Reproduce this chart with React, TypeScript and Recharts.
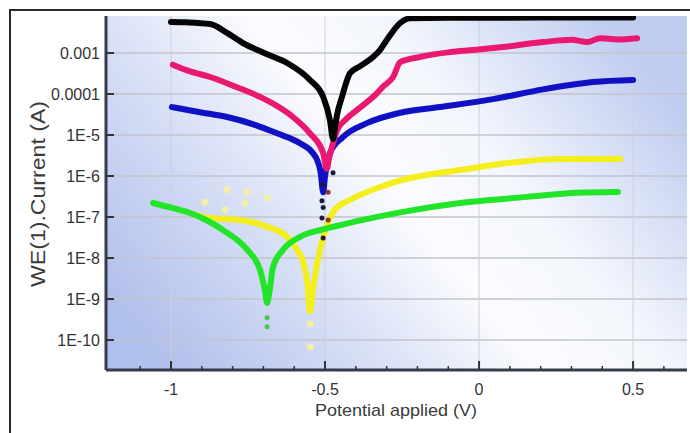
import React from "react";
import { ComposedChart, Line, Scatter, XAxis, YAxis, CartesianGrid, Label } from "recharts";

// axis ticks
const xTicks = [-1.1, -1, -0.9, -0.8, -0.7, -0.6, -0.5, -0.4, -0.3, -0.2, -0.1, 0, 0.1, 0.2, 0.3, 0.4, 0.5, 0.6];
const xMajor = [-1, -0.5, 0, 0.5];
const xMajorLabels = ["-1", "-0.5", "0", "0.5"];
const yTicks = [1e-3, 1e-4, 1e-5, 1e-6, 1e-7, 1e-8, 1e-9, 1e-10];
const yTickLabels = ["0.001", "0.0001", "1E-5", "1E-6", "1E-7", "1E-8", "1E-9", "1E-10"];

// [potential V, current A]
const black = [
  [-1.0, 5.7e-3], [-0.95, 5.6e-3], [-0.873, 5.1e-3], [-0.818, 3.1e-3], [-0.766, 1.75e-3], [-0.69, 9.5e-4],
  [-0.623, 5.7e-4], [-0.549, 2.2e-4], [-0.506, 8.5e-5], [-0.484, 2.3e-5], [-0.474, 8e-6],
  [-0.468, 1.5e-5], [-0.461, 3.1e-5], [-0.445, 8.5e-5], [-0.419, 3.2e-4], [-0.386, 4.8e-4], [-0.344, 8e-4],
  [-0.321, 1.2e-3], [-0.299, 2.1e-3], [-0.256, 5.4e-3], [-0.224, 7.0e-3], [-0.1, 7.2e-3], [0.2, 7.3e-3], [0.5, 7.3e-3],
];
const pink = [
  [-0.994, 5.2e-4], [-0.94, 3.6e-4], [-0.873, 2.6e-4], [-0.79, 1.5e-4], [-0.711, 8.5e-5], [-0.65, 4.8e-5],
  [-0.604, 2.75e-5], [-0.549, 1.1e-5], [-0.506, 3.6e-6], [-0.494, 1.5e-6],
  [-0.488, 2.5e-6], [-0.475, 6e-6], [-0.461, 1.3e-5], [-0.43, 2.5e-5], [-0.396, 4.1e-5], [-0.331, 1.05e-4],
  [-0.312, 1.5e-4], [-0.279, 2.6e-4], [-0.256, 6e-4], [-0.192, 8e-4], [-0.094, 1.05e-3], [-0.019, 1.18e-3],
  [0.078, 1.4e-3], [0.208, 1.85e-3], [0.3, 2.1e-3], [0.351, 1.85e-3], [0.393, 2.3e-3], [0.45, 2.15e-3], [0.513, 2.3e-3],
];
const blue = [
  [-0.997, 4.8e-5], [-0.906, 3.6e-5], [-0.818, 2.75e-5], [-0.73, 1.8e-5], [-0.656, 1.1e-5], [-0.581, 6.3e-6],
  [-0.539, 3.6e-6], [-0.526, 2.5e-6], [-0.514, 1.2e-6], [-0.506, 4e-7],
  [-0.5, 1e-6], [-0.492, 2.2e-6], [-0.484, 3.6e-6], [-0.442, 8.9e-6], [-0.364, 1.95e-5], [-0.256, 3.5e-5],
  [-0.127, 4.8e-5], [0.045, 7.5e-5], [0.208, 1.3e-4], [0.295, 1.66e-4], [0.37, 1.96e-4], [0.5, 2.2e-4],
];
const yellow = [
  [-0.922, 1.15e-7], [-0.873, 9.5e-8], [-0.776, 8.5e-8], [-0.688, 5.8e-8], [-0.623, 3.3e-8], [-0.591, 1.6e-8],
  [-0.571, 8e-9], [-0.556, 2e-9], [-0.549, 5e-10],
  [-0.54, 1.5e-9], [-0.532, 4e-9], [-0.516, 1.6e-8], [-0.494, 6.3e-8], [-0.468, 1.5e-7], [-0.419, 2.6e-7],
  [-0.321, 5.4e-7], [-0.25, 8e-7], [-0.159, 1.1e-6], [-0.062, 1.4e-6], [0.1, 2.1e-6], [0.263, 2.6e-6], [0.458, 2.6e-6],
];
const green = [
  [-1.058, 2.2e-7], [-1.0, 1.7e-7], [-0.938, 1.25e-7], [-0.88, 8e-8], [-0.831, 4.8e-8], [-0.753, 1.6e-8],
  [-0.711, 5.1e-9], [-0.695, 1.6e-9], [-0.688, 8e-10],
  [-0.68, 1.6e-9], [-0.669, 6e-9], [-0.636, 1.6e-8], [-0.581, 3.3e-8], [-0.516, 4.8e-8], [-0.451, 6.3e-8],
  [-0.377, 8.5e-8], [-0.256, 1.3e-7], [-0.062, 2.2e-7], [0.156, 3.1e-7], [0.318, 3.9e-7], [0.451, 4.1e-7],
];

// loose points near the corrosion potentials
const darkDots = [[-0.474, 1.2e-6], [-0.506, 1.7e-7], [-0.51, 9.5e-8], [-0.506, 3.1e-8], [-0.51, 2.5e-7], [-0.508, 6e-7]];
const brownDots = [[-0.49, 8.5e-8], [-0.49, 4e-7]];
const greenDots = [[-0.688, 3.5e-10], [-0.688, 2.1e-10]];
const paleYellowDots = [
  [-0.89, 2.3e-7], [-0.818, 4.6e-7], [-0.753, 4.1e-7], [-0.76, 2.2e-7], [-0.688, 2.9e-7], [-0.825, 1.5e-7],
  [-0.548, 2.5e-10], [-0.548, 6.8e-11],
];

const toPts = (arr: number[][]) => arr.map(([x, y]) => ({ x, y }));

const font = "'Liberation Sans', Arial, sans-serif";
const xDomain = [-1.211, 0.675];
const yDomain = [1.86e-11, 7.99e-3];

const isMajor = (v: number) => xMajor.findIndex((m) => Math.abs(m - v) < 1e-6);

const BottomTick = (props: any) => {
  const { x, y, payload } = props;
  const idx = isMajor(payload.value);
  return (
    <g>
      <line x1={x} x2={x} y1={y} y2={y - (idx >= 0 ? 9 : 4)} stroke="#333" strokeWidth={idx >= 0 ? 2 : 1.5} />
      {idx >= 0 && (
        <text x={x} y={y + 25} textAnchor="middle" fontSize={16} fill="#333" fontFamily={font}>
          {xMajorLabels[idx]}
        </text>
      )}
    </g>
  );
};

const TopTick = (props: any) => {
  const { x, y, payload } = props;
  const idx = isMajor(payload.value);
  return <line x1={x} x2={x} y1={y} y2={y + (idx >= 0 ? 8 : 4)} stroke="#555" strokeWidth={1.5} />;
};

const LeftTick = (props: any) => {
  const { x, y, index } = props;
  return (
    <g>
      <line x1={x} x2={x + 8} y1={y} y2={y} stroke="#333" strokeWidth={2} />
      <text x={x - 6} y={y + 6} textAnchor="end" fontSize={16} fill="#333" fontFamily={font}>
        {yTickLabels[index]}
      </text>
    </g>
  );
};

const RightTick = (props: any) => {
  const { x, y } = props;
  return <line x1={x} x2={x - 6} y1={y} y2={y} stroke="#555" strokeWidth={1.5} />;
};

const dot = (r: number, color: string) => (p: any) => <circle cx={p.cx} cy={p.cy} r={r} fill={color} />;

const series = [
  { name: "yellow", data: yellow, color: "#f4ee1c" },
  { name: "green", data: green, color: "#22e52a" },
  { name: "blue", data: blue, color: "#1010c4" },
  { name: "pink", data: pink, color: "#ea1870" },
  { name: "black", data: black, color: "#050505" },
];

export default function App() {
  return (
    <div style={{ position: "fixed", left: 0, top: 0, width: 690, height: 433, background: "#fff", overflow: "hidden" }}>
      <div
        style={{
          position: "absolute",
          left: 9,
          top: 9,
          right: -4,
          bottom: -4,
          borderTop: "2px solid #2b2b2b",
          borderLeft: "2px solid #2b2b2b",
        }}
      />
      <div style={{ position: "absolute", left: 0, top: 0 }}>
        <ComposedChart width={690} height={433} margin={{ top: 16, right: 3, bottom: 8, left: 0 }}>
          <defs>
            <linearGradient id="bg" x1="0" y1="0.8" x2="1" y2="0.3">
              <stop offset="0" stopColor="#b0bfeb" />
              <stop offset="0.3" stopColor="#d8e0f6" />
              <stop offset="0.52" stopColor="#fbfcfe" />
              <stop offset="0.7" stopColor="#f3f6fc" />
              <stop offset="1" stopColor="#c0cdf0" />
            </linearGradient>
          </defs>
          <CartesianGrid
            vertical={false}
            horizontalValues={yTicks}
            stroke="#c3c4cc"
            strokeWidth={1.5}
            fill="url(#bg)"
            fillOpacity={1}
          />
          <CartesianGrid horizontal={false} verticalValues={xMajor} stroke="#cfd0d8" strokeWidth={1} />
          <XAxis
            dataKey="x"
            type="number"
            domain={xDomain}
            allowDataOverflow
            ticks={xTicks}
            interval={0}
            tickSize={0}
            tickMargin={0}
            tickLine={false}
            tick={<BottomTick />}
            height={55}
            axisLine={{ stroke: "#363c4c", strokeWidth: 3 }}
          >
            <Label
              content={() => (
                <text
                  x={396}
                  y={416}
                  textAnchor="middle"
                  fontSize={17}
                  fill="#3a3a3a"
                  fontFamily={font}
                  textLength={162}
                  lengthAdjust="spacingAndGlyphs"
                >
                  Potential applied (V)
                </text>
              )}
            />
          </XAxis>
          <XAxis
            xAxisId="top"
            orientation="top"
            dataKey="x"
            type="number"
            domain={xDomain}
            allowDataOverflow
            ticks={xTicks}
            interval={0}
            tickSize={0}
            tickMargin={0}
            tickLine={false}
            tick={<TopTick />}
            height={0}
            axisLine={{ stroke: "#8a8c94", strokeWidth: 1.5 }}
          />
          <YAxis
            type="number"
            scale="log"
            domain={yDomain}
            allowDataOverflow
            ticks={yTicks}
            interval={0}
            tickSize={0}
            tickMargin={0}
            tickLine={false}
            tick={<LeftTick />}
            width={106}
            axisLine={{ stroke: "#363c4c", strokeWidth: 3 }}
          >
            <Label
              content={() => (
                <text
                  x={0}
                  y={0}
                  transform="translate(38,194) rotate(-90)"
                  textAnchor="middle"
                  dominantBaseline="central"
                  fontSize={20}
                  fill="#3a3a3a"
                  fontFamily={font}
                  textLength={186}
                  lengthAdjust="spacingAndGlyphs"
                >
                  WE(1).Current (A)
                </text>
              )}
            />
          </YAxis>
          <YAxis
            yAxisId="right"
            orientation="right"
            type="number"
            scale="log"
            domain={yDomain}
            allowDataOverflow
            ticks={yTicks}
            interval={0}
            tickSize={0}
            tickMargin={0}
            tickLine={false}
            tick={<RightTick />}
            width={0}
            axisLine={{ stroke: "#a8acb8", strokeWidth: 1 }}
          />
          {series.map((s) => (
            <Line
              key={s.name}
              data={toPts(s.data)}
              dataKey="y"
              type="monotone"
              stroke={s.color}
              strokeWidth={6}
              strokeLinecap="round"
              strokeLinejoin="round"
              dot={false}
              activeDot={false}
              isAnimationActive={false}
            />
          ))}
          <Scatter data={toPts(paleYellowDots)} dataKey="y" shape={dot(3.5, "#f3f0a6")} isAnimationActive={false} />
          <Scatter data={toPts(greenDots)} dataKey="y" shape={dot(2.5, "#44cc44")} isAnimationActive={false} />
          <Scatter data={toPts(brownDots)} dataKey="y" shape={dot(2.5, "#8a3a30")} isAnimationActive={false} />
          <Scatter data={toPts(darkDots)} dataKey="y" shape={dot(2.5, "#1a1a40")} isAnimationActive={false} />
        </ComposedChart>
      </div>
    </div>
  );
}
